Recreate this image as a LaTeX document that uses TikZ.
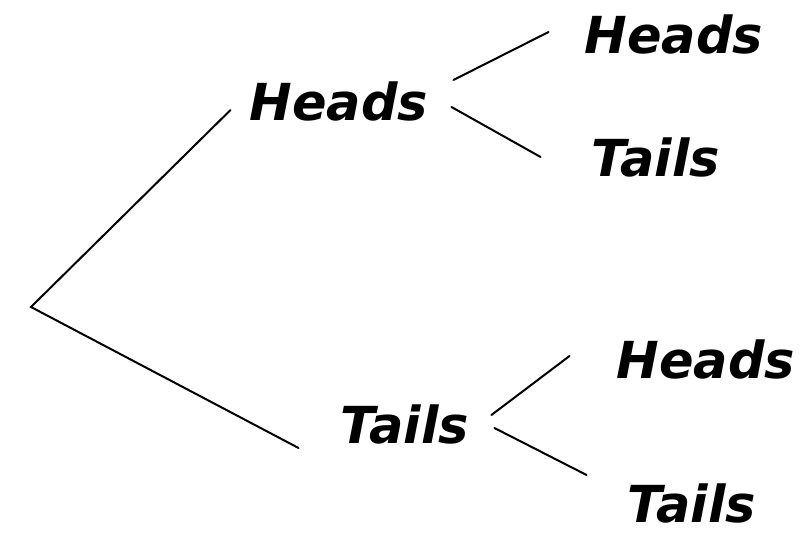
\documentclass[tikz,border=0pt]{standalone}
\usepackage{fontspec}
\setmainfont{DejaVu Sans}

\begin{document}
\begin{tikzpicture}[x=1pt, y=-1pt,
    lbl/.style={inner sep=0pt, font=\fontsize{51}{60}\selectfont\bfseries\itshape},
    branch/.style={line width=2pt, line cap=round}]
    \useasboundingbox (0,0) rectangle (807,534);

    % 根节点与第一次抛掷
    \coordinate (root) at (31,307);
    \node[lbl] (hm) at (339,101) {Heads};
    \node[lbl] (tm) at (405,424) {Tails};

    % 第二次抛掷
    \node[lbl] (hh) at (674,34) {Heads};
    \node[lbl] (ht) at (656,157) {Tails};
    \node[lbl] (lh) at (706,359) {Heads};
    \node[lbl] (lt) at (692,503) {Tails};

    % 画树枝
    \draw[branch] ([shift={(-19,9)}]hm.west) -- (root) -- ([shift={(-42,24)}]tm.west);
    \draw[branch] ([shift={(25,-21)}]hm.east) -- ([shift={(-36,-2)}]hh.west);
    \draw[branch] ([shift={(23,6)}]hm.east) -- ([shift={(-51,0)}]ht.west);
    \draw[branch] ([shift={(22,-9)}]tm.east) -- ([shift={(-47,-3)}]lh.west);
    \draw[branch] ([shift={(25,4)}]tm.east) -- ([shift={(-41,-28)}]lt.west);
\end{tikzpicture}
\end{document}
